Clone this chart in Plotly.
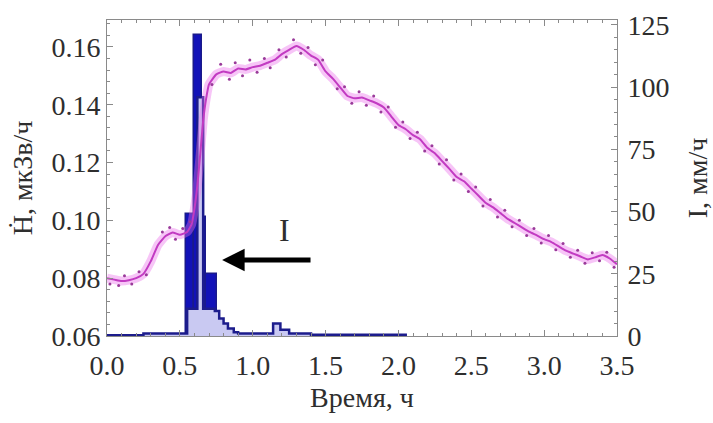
import numpy as np
import plotly.graph_objects as go

# ---- data ----
# dose rate H (left axis), smoothed curve
t_line = [0.00, 0.05, 0.10, 0.15, 0.20, 0.25, 0.30, 0.35, 0.40, 0.45, 0.50, 0.55, 0.58, 0.60,
          0.62, 0.64, 0.66, 0.68, 0.70, 0.75, 0.80, 0.85, 0.90, 0.95, 1.00, 1.05, 1.10, 1.15,
          1.20, 1.25, 1.30, 1.35, 1.40, 1.45, 1.50, 1.55, 1.60, 1.65, 1.70, 1.75, 1.80, 1.85,
          1.90, 1.95, 2.00, 2.05, 2.10, 2.15, 2.20, 2.25, 2.30, 2.35, 2.40, 2.45, 2.50, 2.55,
          2.60, 2.65, 2.70, 2.75, 2.80, 2.85, 2.90, 2.95, 3.00, 3.05, 3.10, 3.15, 3.20, 3.25,
          3.30, 3.35, 3.40, 3.45, 3.50]
h_line = [0.0800, 0.0795, 0.0790, 0.0793, 0.0800, 0.0815, 0.0858, 0.0915, 0.0945, 0.0958,
          0.0950, 0.0960, 0.0985, 0.1040, 0.1120, 0.1230, 0.1345, 0.1420, 0.1470, 0.1505,
          0.1515, 0.1510, 0.1525, 0.1522, 0.1530, 0.1535, 0.1545, 0.1555, 0.1575, 0.1590,
          0.1603, 0.1590, 0.1570, 0.1555, 0.1515, 0.1490, 0.1460, 0.1430, 0.1422, 0.1425,
          0.1415, 0.1405, 0.1390, 0.1360, 0.1330, 0.1315, 0.1295, 0.1280, 0.1250, 0.1232,
          0.1205, 0.1178, 0.1150, 0.1135, 0.1110, 0.1085, 0.1060, 0.1045, 0.1025, 0.1005,
          0.0990, 0.0975, 0.0960, 0.0948, 0.0935, 0.0925, 0.0910, 0.0895, 0.0885, 0.0875,
          0.0865, 0.0872, 0.0880, 0.0868, 0.0848]

# dose rate H, raw measurements (dots)
t_dots = [0.02, 0.08, 0.12, 0.17, 0.22, 0.27, 0.38, 0.43, 0.47, 0.52, 0.57, 0.72, 0.78, 0.84,
          0.88, 0.93, 0.98, 1.03, 1.08, 1.12, 1.18, 1.23, 1.28, 1.33, 1.38, 1.43, 1.48, 1.58,
          1.63, 1.68, 1.73, 1.78, 1.83, 1.88, 1.93, 1.98, 2.03, 2.08, 2.13, 2.18, 2.23, 2.28,
          2.33, 2.38, 2.43, 2.48, 2.53, 2.58, 2.63, 2.68, 2.73, 2.78, 2.83, 2.88, 2.93, 2.98,
          3.03, 3.08, 3.13, 3.18, 3.23, 3.28, 3.33, 3.38, 3.43, 3.48]
h_dots = [0.0780, 0.0775, 0.0808, 0.0780, 0.0822, 0.0812, 0.0960, 0.0975, 0.0935, 0.0972,
          0.0995, 0.1470, 0.1540, 0.1488, 0.1545, 0.1500, 0.1555, 0.1512, 0.1560, 0.1528,
          0.1590, 0.1565, 0.1625, 0.1578, 0.1598, 0.1538, 0.1555, 0.1455, 0.1462, 0.1405,
          0.1445, 0.1398, 0.1430, 0.1375, 0.1392, 0.1322, 0.1340, 0.1283, 0.1305, 0.1240,
          0.1258, 0.1195, 0.1210, 0.1140, 0.1160, 0.1100, 0.1115, 0.1050, 0.1072, 0.1012,
          0.1035, 0.0978, 0.1000, 0.0948, 0.0972, 0.0922, 0.0948, 0.0898, 0.0920, 0.0872,
          0.0897, 0.0852, 0.0888, 0.0860, 0.0890, 0.0838]

# rain intensity I (right axis), coarse bins (dark bars)
dark_left = [0.545, 0.60, 0.65, 0.68]
dark_right = [0.60, 0.65, 0.68, 0.755]
dark_vals = [49, 121, 48, 25]

# rain intensity I, fine step histogram (light fill)
light_edges = [0.00, 0.25, 0.55, 0.62, 0.66, 0.74, 0.77, 0.80, 0.83, 0.87, 0.90, 1.14, 1.19,
               1.25, 1.40, 2.05]
light_vals = [0.3, 1.0, 11, 96, 11, 10, 7, 5, 3, 1.5, 1.0, 5, 2.5, 1.0, 0.5]

x_ticks = [0.0, 0.5, 1.0, 1.5, 2.0, 2.5, 3.0, 3.5]
h_ticks = [0.06, 0.08, 0.10, 0.12, 0.14, 0.16]
i_ticks = [0, 25, 50, 75, 100, 125]

# ---- figure ----
FONT = "Liberation Serif, Times New Roman, Times, serif"
TXT = "#2e2e2e"
FRAME = "#8a8a8a"

fig = go.Figure()

dl = np.array(dark_left)
dr = np.array(dark_right)
fig.add_trace(go.Bar(x=(dl + dr) / 2, y=dark_vals, width=dr - dl, yaxis="y",
                     marker=dict(color="#1212b8", line=dict(color="#1a1a8a", width=1.5)),
                     showlegend=False))

sx = list(light_edges)
sy = list(light_vals) + [light_vals[-1]]
sx = sx + [light_edges[-1]]
sy = sy + [0]
fig.add_trace(go.Scatter(x=sx, y=sy, mode="lines", line=dict(shape="hv", color="#1c1c8c", width=2.5),
                         fill="tozeroy", fillcolor="#c9c9f2", yaxis="y", showlegend=False))

fig.add_trace(go.Scatter(x=t_line, y=h_line, mode="lines", yaxis="y2",
                         line=dict(color="rgba(235,110,235,0.4)", width=9, shape="spline", smoothing=0.4),
                         showlegend=False))
fig.add_trace(go.Scatter(x=t_line, y=h_line, mode="lines", yaxis="y2",
                         line=dict(color="#c23bc2", width=2, shape="spline", smoothing=0.4),
                         showlegend=False))
fig.add_trace(go.Scatter(x=t_dots, y=h_dots, mode="markers", yaxis="y2",
                         marker=dict(color="#9a3a9a", size=3), showlegend=False))

axis_common = dict(showgrid=False, zeroline=False, showline=True, linecolor=FRAME, linewidth=1,
                   ticks="inside", ticklen=6, tickcolor=FRAME, automargin=False,
                   tickfont=dict(family=FONT, size=28, color=TXT))

fig.update_layout(
    width=713, height=423,
    margin=dict(l=107, r=96, t=20, b=87),
    paper_bgcolor="white", plot_bgcolor="white",
    bargap=0,
    font=dict(family=FONT, color=TXT),
    xaxis=dict(range=[0, 3.5], tickvals=x_ticks, tickformat=".1f", mirror="ticks",
               ticklabelstandoff=4,
               minor=dict(dtick=0.1, ticklen=3, ticks="inside", tickcolor=FRAME),
               title=dict(text="Время, ч", font=dict(family=FONT, size=28, color=TXT), standoff=7),
               **axis_common),
    yaxis=dict(range=[0, 127], side="right", tickvals=i_ticks, ticklabelstandoff=4,
               minor=dict(dtick=5, ticklen=3, ticks="inside", tickcolor=FRAME),
               title=dict(text="I, мм/ч", font=dict(family=FONT, size=28, color=TXT), standoff=19),
               **axis_common),
    yaxis2=dict(range=[0.06, 0.1693], side="left", overlaying="y", tickvals=h_ticks, tickformat=".2f",
                minor=dict(dtick=0.004, ticklen=3, ticks="inside", tickcolor=FRAME),
                title=dict(text="Ḣ, мкЗв/ч", font=dict(family=FONT, size=28, color=TXT), standoff=10),
                **axis_common),
    annotations=[
        dict(x=0.79, y=0.0863, xref="x", yref="y2", ax=1.407, ay=0.0863, axref="x", ayref="y2",
             text="", showarrow=True, arrowhead=2, arrowsize=0.9, arrowwidth=5, arrowcolor="black"),
        dict(x=1.22, y=0.0965, xref="x", yref="y2", text="I", showarrow=False,
             font=dict(family=FONT, size=32, color=TXT)),
    ],
)

fig.write_html("out.html")
